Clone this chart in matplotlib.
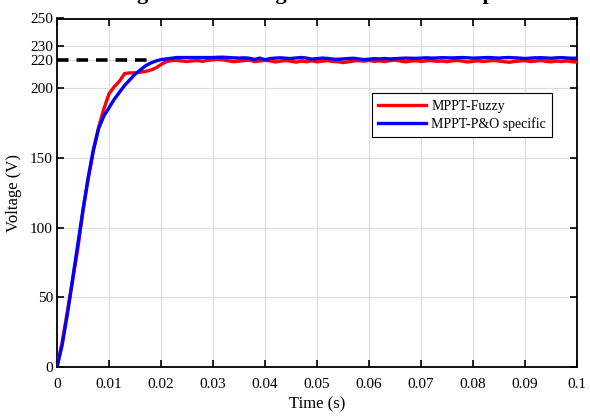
import matplotlib
matplotlib.use("Agg")
import matplotlib.pyplot as plt
from matplotlib.legend_handler import HandlerLine2D
from matplotlib.lines import Line2D

plt.rcParams['font.family'] = ['Liberation Serif', 'DejaVu Serif']

# time grid (s)
t_rise = [0.000, 0.001, 0.002, 0.003, 0.004, 0.005, 0.006, 0.007, 0.008, 0.009,
          0.010, 0.011, 0.012, 0.013, 0.014, 0.015, 0.016, 0.017, 0.018, 0.019,
          0.020, 0.021, 0.022, 0.023]
fuzzy_rise = [0, 18, 40, 62, 85, 112, 135, 155, 172, 185,
              196, 201, 205, 210.5, 211, 211, 211.5, 212, 213, 214.5,
              217, 219, 219.8, 220]
po_rise = [0, 16, 38, 63, 88, 113, 136, 156, 171, 180,
           186, 192, 197, 202, 206, 210, 213, 216, 218, 219.5,
           220.5, 221, 221.5, 222]

t_steady = [round(0.024 + 0.001 * i, 3) for i in range(77)]
fuzzy_steady = [219.5, 219.2, 219.6, 219.8, 219.3, 220.0, 220.4, 220.6, 220.3, 219.6,
                219.0, 219.4, 219.8, 220.2, 219.1, 219.5, 220.0, 219.6, 218.8, 219.4,
                219.9, 219.3, 218.7, 219.5, 219.0, 219.6, 218.9, 219.4, 219.8, 219.2,
                219.0, 218.4, 218.9, 219.5, 219.8, 219.4, 219.9, 219.3, 219.6, 219.1,
                219.7, 220.1, 219.5, 218.9, 219.4, 219.8, 219.2, 219.6, 219.9, 219.3,
                219.5, 219.0, 219.6, 219.9, 219.4, 218.8, 219.3, 219.7, 219.2, 219.6,
                219.9, 219.5, 219.0, 218.6, 219.2, 219.5, 219.8, 219.1, 219.4, 219.9,
                219.3, 218.9, 219.5, 219.1, 219.6, 219.0, 218.7]
po_steady = [222.0, 222.0, 222.0, 222.0, 222.0, 222.0, 222.0, 222.2, 222.2, 222.0,
             221.8, 221.6, 221.8, 221.5, 220.6, 221.6, 220.4, 221.3, 221.6, 221.8,
             221.5, 221.3, 221.7, 222.0, 221.6, 220.9, 221.2, 221.6, 221.4, 220.9,
             220.7, 221.0, 221.3, 221.5, 221.0, 220.5, 220.8, 221.2, 221.0, 221.3,
             221.0, 221.2, 221.4, 221.6, 221.5, 221.4, 221.6, 221.8, 221.6, 221.7,
             221.9, 221.8, 221.7, 221.9, 222.0, 221.8, 221.6, 221.7, 221.9, 222.0,
             221.8, 221.6, 221.9, 222.0, 221.8, 221.6, 221.3, 221.6, 221.8, 221.9,
             221.7, 221.5, 221.8, 221.9, 221.7, 221.5, 221.6]

time = t_rise + t_steady
fuzzy = fuzzy_rise + fuzzy_steady
po = po_rise + po_steady

ref_t = [0.0, 0.0185]
ref_v = [220, 220]

xticks = [0, 0.01, 0.02, 0.03, 0.04, 0.05, 0.06, 0.07, 0.08, 0.09, 0.1]
xticklabels = ['0', '0.01', '0.02', '0.03', '0.04', '0.05', '0.06', '0.07', '0.08', '0.09', '0.1']
yticks = [0, 50, 100, 150, 200, 220, 230, 250]


class ShiftedLineHandler(HandlerLine2D):
    """Legend line handle that leaves a small blank on its left."""
    def create_artists(self, legend, orig_handle, xdescent, ydescent, width,
                       height, fontsize, trans):
        arts = super().create_artists(legend, orig_handle, xdescent, ydescent,
                                      width, height, fontsize, trans)
        for a in arts:
            if isinstance(a, Line2D):
                xd = list(a.get_xdata())
                if len(xd) == 2 and a.get_linestyle() not in ('None', ''):
                    span = xd[1] - xd[0]
                    a.set_xdata([xd[0] + 0.23 * span, xd[1]])
        return arts


fig = plt.figure(figsize=(5.9, 4.17), dpi=100)
ax = fig.add_axes([57/590, 1 - 367/417, 520/590, 348.5/417])

ax.plot(ref_t, ref_v, color='black', linestyle=(0, (3.2, 2.2)), linewidth=2.6, zorder=3)
l1, = ax.plot(time, fuzzy, color='#ff0000', linewidth=2.4, label='MPPT-Fuzzy', zorder=4)
l2, = ax.plot(time, po, color='#0000ff', linewidth=2.4, label='MPPT-P&O specific', zorder=5)

ax.set_xlim(0, 0.1)
ax.set_ylim(0, 250)
ax.set_xticks(xticks)
ax.set_xticklabels(xticklabels)
ax.set_yticks(yticks)
ax.grid(True, color='#dcdcdc', linewidth=0.8)
ax.set_axisbelow(True)
ax.tick_params(direction='in', top=True, right=True, length=5, width=1.2,
               labelsize=11, pad=8, colors='black')
ax.tick_params(axis='y', pad=3)
for s in ax.spines.values():
    s.set_linewidth(1.3)
    s.set_color('black')

ax.set_xlabel('Time (s)', fontsize=12, labelpad=4)
ax.set_ylabel('Voltage (V)', fontsize=12, labelpad=6)

leg = ax.legend(handles=[l1, l2], loc='upper left', bbox_to_anchor=(0.606, 0.785),
                fontsize=10, frameon=True, fancybox=False, edgecolor='black',
                framealpha=1, handlelength=3.45, borderpad=0.45, labelspacing=0.3,
                handletextpad=0.35, borderaxespad=0,
                handler_map={Line2D: ShiftedLineHandler()})
leg.get_frame().set_linewidth(0.8)

fig.text(0.51, 1.003, 'Voltage of the sliding mode controlled output',
         ha='center', va='baseline', fontsize=16, fontweight='bold')

fig.savefig('out.png', dpi=100)
